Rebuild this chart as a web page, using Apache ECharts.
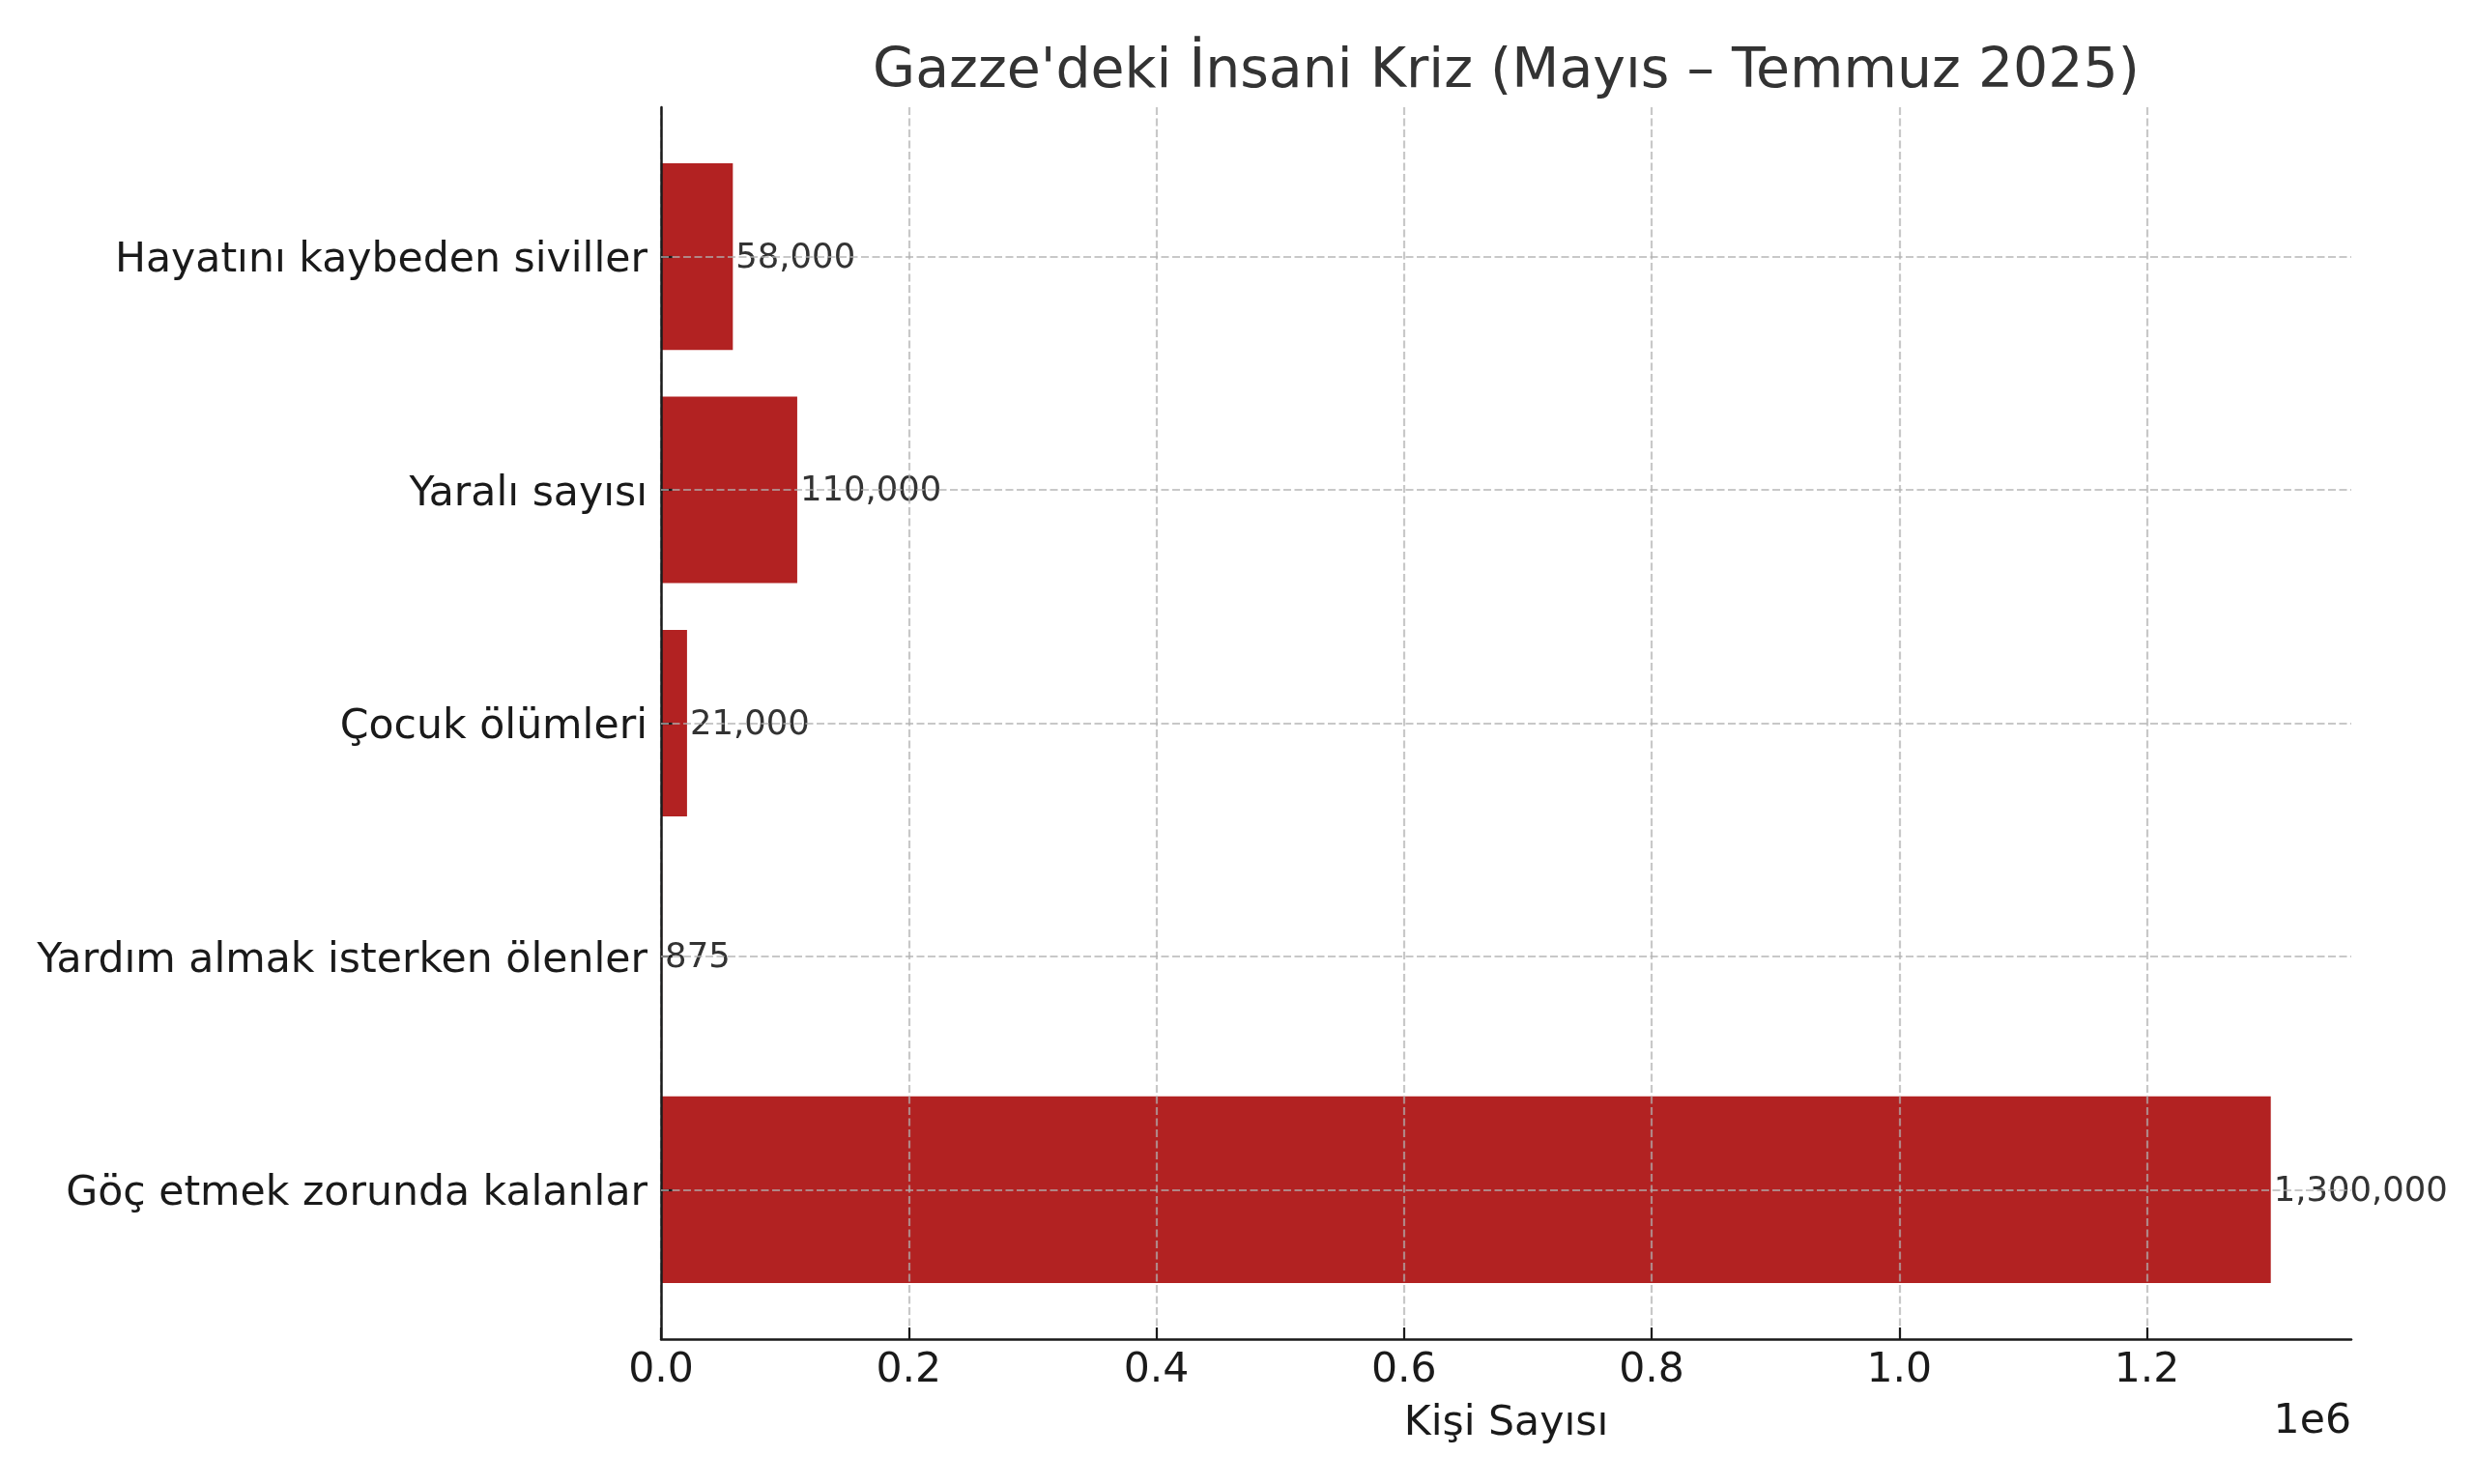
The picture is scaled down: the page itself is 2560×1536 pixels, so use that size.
<!DOCTYPE html>
<html>
<head>
<meta charset="utf-8">
<script src="https://cdn.jsdelivr.net/npm/echarts@6/dist/echarts.min.js"></script>
<style>
  html, body { margin: 0; padding: 0; background: #ffffff; }
  #chart { width: 2560px; height: 1536px; }
</style>
</head>
<body>
<div id="chart"></div>
<script>
// ---- Data ----
const categories = [
  'Hayatını kaybeden siviller',
  'Yaralı sayısı',
  'Çocuk ölümleri',
  'Yardım almak isterken ölenler',
  'Göç etmek zorunda kalanlar'
];
const values = [58000, 110000, 21000, 875, 1300000];
const titleText = "Gazze'deki İnsani Kriz (Mayıs – Temmuz 2025)";
const xAxisTitle = 'Kişi Sayısı';
const offsetText = '1e6';
const xMax = 1365000;
const xTickMax = 1200000;
const xTickInterval = 200000;

// ---- Layout ----
const W = 2560, H = 1536;
const plot = { left: 684, right: 2433, top: 111, bottom: 1386 };
const n = categories.length;
const spanUnits = (n - 1 + 0.8) * 1.1;
const unitPx = (plot.bottom - plot.top) / spanUnits;
const bandPad = (0.05 * (n - 1 + 0.8) + 0.4 - 0.5) * unitPx;
const tickRight = plot.left + (plot.right - plot.left) * xTickMax / xMax;

const FONT = '"DejaVu Sans", sans-serif';
const BAR = '#b22222';
const INK = '#1a1a1a';
const LBL = 42.6;
const gridLine = { type: [8, 3.5], color: 'rgba(176,176,176,0.7)', width: 2.2 };

const chart = echarts.init(document.getElementById('chart'), null, { renderer: 'canvas' });

chart.setOption({
  backgroundColor: '#ffffff',
  animation: false,
  textStyle: { fontFamily: FONT },
  title: {
    text: titleText,
    left: (plot.left + plot.right) / 2 - 5,
    textAlign: 'center',
    top: 42,
    textStyle: { fontFamily: FONT, fontSize: 56.9, fontWeight: 'normal', color: '#333333' }
  },
  grid: [
    { left: plot.left, right: W - plot.right, top: plot.top + bandPad, bottom: H - (plot.bottom - bandPad) },
    { left: plot.left, right: W - plot.right, top: plot.top, bottom: H - plot.bottom },
    { left: plot.left, right: W - tickRight, top: plot.top, bottom: H - plot.bottom }
  ],
  xAxis: [
    { gridIndex: 0, type: 'value', min: 0, max: xMax, show: false },
    {
      gridIndex: 1, type: 'value', min: 0, max: xMax, z: 4,
      axisLine: { show: true, onZero: false, lineStyle: { color: INK, width: 2.5 } },
      axisTick: { show: false }, axisLabel: { show: false }, splitLine: { show: false },
      name: xAxisTitle, nameLocation: 'middle', nameGap: 66,
      nameTextStyle: { fontFamily: FONT, fontSize: LBL, color: INK }
    },
    {
      gridIndex: 2, type: 'value', min: 0, max: xTickMax, interval: xTickInterval, z: 3,
      axisLine: { show: false },
      axisTick: { show: true, inside: true, length: 12, lineStyle: { color: INK, width: 2.2 } },
      axisLabel: {
        show: true, margin: 11, fontFamily: FONT, fontSize: LBL, color: INK,
        formatter: v => (v / 1e6).toFixed(1)
      },
      splitLine: { show: true, lineStyle: gridLine }
    }
  ],
  yAxis: [
    {
      gridIndex: 0, type: 'category', data: categories, inverse: true, z: 4,
      axisLine: { show: false },
      axisTick: { show: true, inside: true, alignWithLabel: true, length: 12, lineStyle: { color: INK, width: 2.2 } },
      axisLabel: { margin: 14, verticalAlign: 'top', lineHeight: 9, fontFamily: FONT, fontSize: LBL, color: INK },
      splitLine: { show: false }
    },
    {
      gridIndex: 1, type: 'value', min: 0, max: 1, z: 4,
      axisLine: { show: true, onZero: false, lineStyle: { color: INK, width: 2.5 } },
      axisTick: { show: false }, axisLabel: { show: false }, splitLine: { show: false }
    },
    { gridIndex: 2, type: 'value', min: 0, max: 1, show: false }
  ],
  series: [
    {
      type: 'bar',
      xAxisIndex: 0, yAxisIndex: 0,
      data: values,
      barCategoryGap: '20%',
      itemStyle: { color: BAR },
      label: {
        show: true, position: 'right', distance: 3,
        verticalAlign: 'top', lineHeight: 4,
        fontFamily: FONT, fontSize: 35.4, color: '#333333',
        formatter: p => p.value.toLocaleString('en-US')
      },
      markLine: {
        silent: true, symbol: 'none', animation: false,
        label: { show: false },
        lineStyle: gridLine,
        data: categories.map(c => ({ yAxis: c }))
      }
    }
  ],
  graphic: [
    {
      type: 'text', right: W - plot.right, top: 1450,
      style: { text: offsetText, font: LBL + 'px "DejaVu Sans", sans-serif', fill: INK }
    }
  ]
});
</script>
</body>
</html>
